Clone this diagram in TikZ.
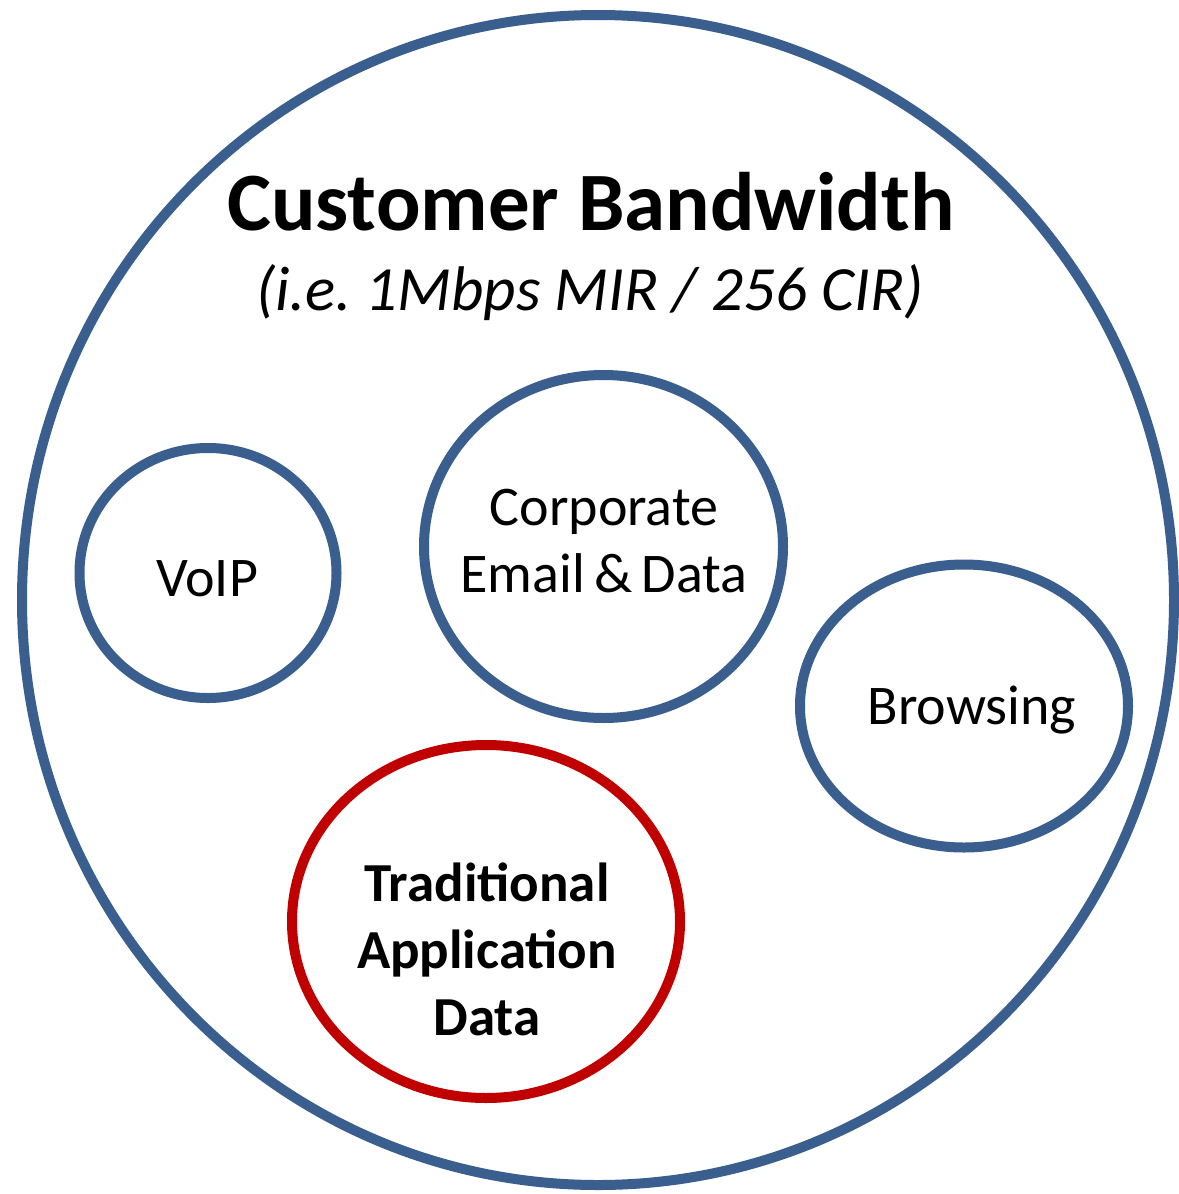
\documentclass[tikz,border=0pt]{standalone}
\usepackage{fontspec}
\setmainfont{Carlito}
\usetikzlibrary{shapes.geometric}
\definecolor{ringblue}{HTML}{3A5F8F}
\definecolor{ringred}{HTML}{C00000}
\tikzset{
  ring/.style={draw=ringblue, line width=10pt, ellipse, inner sep=0pt, fill=none},
  redring/.style={ring, draw=ringred},
  labeltext/.style={font=\fontsize{56}{67}\selectfont, align=center, inner sep=0pt},
  boldtext/.style={font=\bfseries\fontsize{55}{67}\selectfont, align=center, inner sep=0pt}
}
\frenchspacing
\begin{document}
\begin{tikzpicture}[x=1pt,y=-1pt]
\useasboundingbox (0,0) rectangle (1178,1194);
\fill[white] (0,0) rectangle (1178,1194);
\node[ring, minimum width=1152pt, minimum height=1170pt] (outer) at (598,600) {};
\node[font=\bfseries\fontsize{83}{100}\selectfont, anchor=base, inner sep=0pt] (title) at (591,230) {Customer Bandwidth};
\node[font=\itshape\fontsize{63}{76}\selectfont, anchor=base, inner sep=0pt] (sub) at (590,310) {(i.e. 1Mbps MIR / 256 CIR)};
\node[ring, minimum width=257pt, minimum height=250pt] (voip) at (208,573) {};
\node[labeltext] (voiptext) at (207,579) {VoIP};
\node[ring, minimum width=359pt, minimum height=343pt] (corp) at (603.5,546.5) {};
\node[labeltext] (corptext) at (604,541) {Corporate\\Email\,\&\,Data};
\node[ring, minimum width=328pt, minimum height=283pt] (browse) at (964,706) {};
\node[labeltext] (browsetext) at (972,710) {Browsing};
\node[redring, minimum width=388pt, minimum height=353pt] (trad) at (486,921.5) {};
\node[boldtext] (tradtext) at (487,949) {Traditional\\Application\\Data};
\end{tikzpicture}
\end{document}
